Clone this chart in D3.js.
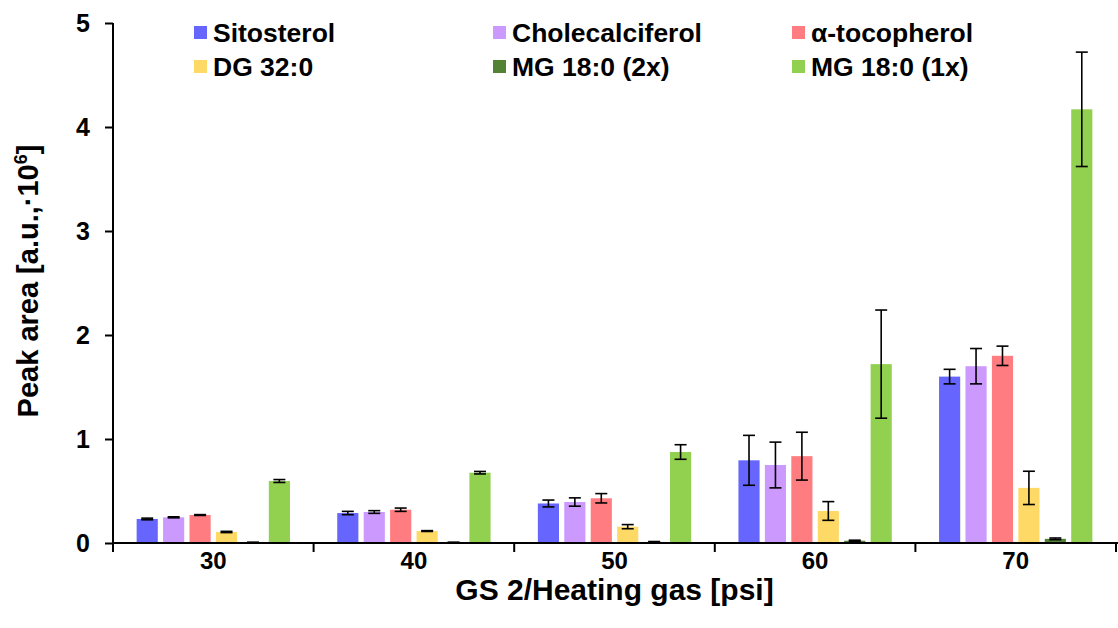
<!DOCTYPE html>
<html>
<head>
<meta charset="utf-8">
<script src="https://cdn.jsdelivr.net/npm/d3@7"></script>
<style>
  html, body { margin: 0; padding: 0; background: #fff; }
  svg { display: block; font-family: "Liberation Sans", Arial, sans-serif; font-weight: bold; }
</style>
</head>
<body>
<svg id="chart" width="1118" height="628"></svg>
<script>
const categories = ["30", "40", "50", "60", "70"];
const seriesNames = ["Sitosterol", "Cholecalciferol", "α-tocopherol", "DG 32:0", "MG 18:0 (2x)", "MG 18:0 (1x)"];
const seriesColors = ["#6666FF", "#CC99FF", "#FF7C80", "#FFD966", "#548235", "#92D050"];
const sitosterol      = [0.231, 0.288, 0.380, 0.795, 1.600];
const cholecalciferol = [0.247, 0.298, 0.394, 0.750, 1.700];
const tocopherol      = [0.269, 0.320, 0.430, 0.835, 1.800];
const dg320           = [0.106, 0.115, 0.157, 0.308, 0.530];
const mg180_2x        = [0.005, 0.005, 0.010, 0.022, 0.040];
const mg180_1x        = [0.596, 0.676, 0.875, 1.720, 4.170];
const sitosterolErr      = [0.008, 0.016, 0.033, 0.240, 0.070];
const cholecalciferolErr = [0.005, 0.013, 0.040, 0.220, 0.170];
const tocopherolErr      = [0.004, 0.016, 0.045, 0.230, 0.093];
const dg320Err           = [0.006, 0.004, 0.020, 0.090, 0.160];
const mg180_2xErr        = [0.003, 0.003, 0.004, 0.005, 0.008];
const mg180_1xErr        = [0.014, 0.012, 0.070, 0.520, 0.550];
const yTicks = [0, 1, 2, 3, 4, 5];

const values = [sitosterol, cholecalciferol, tocopherol, dg320, mg180_2x, mg180_1x];
const errors = [sitosterolErr, cholecalciferolErr, tocopherolErr, dg320Err, mg180_2xErr, mg180_1xErr];

const svg = d3.select("#chart");
const plotL = 113, plotR = 1116, plotT = 23, plotB = 543;

const x0 = d3.scaleBand().domain(categories).range([plotL, plotR]).padding(0);
const x1 = d3.scaleBand().domain(seriesNames).range([21, x0.bandwidth() - 21]).paddingInner(0.2).paddingOuter(0.1);
const y = d3.scaleLinear().domain([0, 5]).range([plotB, plotT]);

const data = [];
categories.forEach((c, ci) => {
  seriesNames.forEach((s, si) => {
    data.push({cat: c, series: s, color: seriesColors[si], v: values[si][ci], e: errors[si][ci]});
  });
});

// bars
svg.append("g").selectAll("rect").data(data).join("rect")
  .attr("x", d => x0(d.cat) + x1(d.series))
  .attr("y", d => y(d.v))
  .attr("width", x1.bandwidth())
  .attr("height", d => y(0) - y(d.v))
  .attr("fill", d => d.color);

// error bars
const eg = svg.append("g").attr("stroke", "#000").attr("stroke-width", 1.6);
data.forEach(d => {
  const cx = x0(d.cat) + x1(d.series) + x1.bandwidth() / 2;
  const y1 = y(d.v + d.e), y2 = y(d.v - d.e);
  eg.append("line").attr("x1", cx).attr("x2", cx).attr("y1", y1).attr("y2", y2);
  eg.append("line").attr("x1", cx - 6).attr("x2", cx + 6).attr("y1", y1).attr("y2", y1);
  eg.append("line").attr("x1", cx - 6).attr("x2", cx + 6).attr("y1", y2).attr("y2", y2);
});

// y axis
const yAxis = d3.axisLeft(y).tickValues(yTicks).tickFormat(d3.format("d")).tickSize(8).tickPadding(8);
const ya = svg.append("g").attr("transform", `translate(${plotL},0)`).call(yAxis);
ya.select(".domain").remove();
ya.selectAll(".tick line").attr("stroke", "#000").attr("stroke-width", 2);
ya.selectAll(".tick text").attr("font-size", 25).attr("font-weight", "bold")
  .attr("font-family", "Liberation Sans, Arial, sans-serif").attr("fill", "#000").attr("dx", -7);
svg.append("line").attr("x1", plotL).attr("x2", plotL).attr("y1", plotT).attr("y2", plotB + 9)
  .attr("stroke", "#000").attr("stroke-width", 2);

// x axis
const xa = svg.append("g").attr("transform", `translate(0,${plotB})`)
  .call(d3.axisBottom(x0).tickSize(0).tickPadding(9));
xa.select(".domain").remove();
xa.selectAll(".tick text").attr("font-size", 24).attr("font-weight", "bold")
  .attr("font-family", "Liberation Sans, Arial, sans-serif").attr("fill", "#000");
svg.append("line").attr("x1", plotL).attr("x2", 1118).attr("y1", plotB).attr("y2", plotB)
  .attr("stroke", "#000").attr("stroke-width", 2);
const boundaries = categories.map(c => x0(c)).concat([x0(categories[categories.length - 1]) + x0.bandwidth()]);
svg.append("g").selectAll("line").data(boundaries.slice(1)).join("line")
  .attr("x1", d => d).attr("x2", d => d).attr("y1", plotB).attr("y2", plotB + 9)
  .attr("stroke", "#000").attr("stroke-width", 2);

// axis titles
svg.append("text").attr("x", (plotL + plotR) / 2).attr("y", 600).attr("text-anchor", "middle")
  .attr("font-size", 30).text("GS 2/Heating gas [psi]");
const yl = svg.append("text").attr("transform", `translate(38,281) rotate(-90)`).attr("text-anchor", "middle")
  .attr("font-size", 29);
yl.append("tspan").text("Peak area [a.u.,·10");
yl.append("tspan").attr("font-size", 18).attr("dy", -11).text("6");
yl.append("tspan").attr("dy", 11).text("]");

// legend
const legX = [194, 493, 792], legY = [26, 60];
const lg = svg.append("g");
seriesNames.forEach((s, i) => {
  const col = i % 3, row = Math.floor(i / 3);
  lg.append("rect").attr("x", legX[col]).attr("y", legY[row]).attr("width", 13).attr("height", 13)
    .attr("fill", seriesColors[i]);
  lg.append("text").attr("x", legX[col] + 19).attr("y", legY[row] + 15.5).attr("font-size", 26.5).text(s);
});
</script>
</body>
</html>
